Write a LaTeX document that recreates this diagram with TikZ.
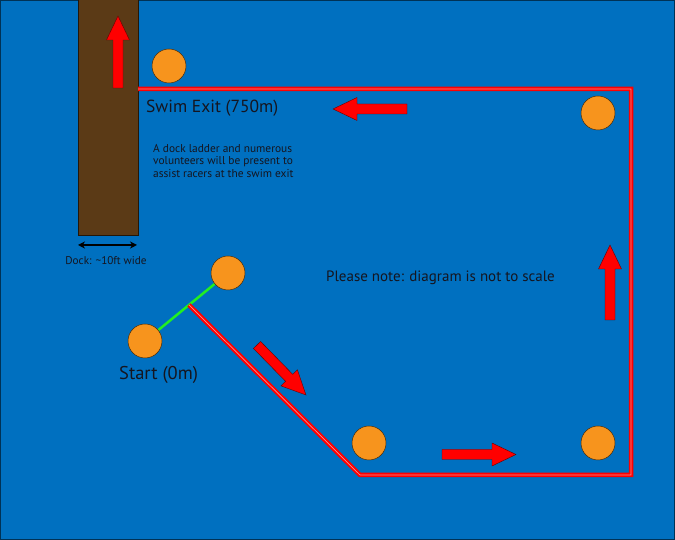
\documentclass[tikz,border=0pt]{standalone}
\usepackage{fontspec}
\setmainfont{PT Sans}
\usetikzlibrary{arrows.meta}
\definecolor{water}{HTML}{0070C0}
\definecolor{dockbrown}{HTML}{5B3A16}
\definecolor{buoy}{HTML}{F7941D}
\definecolor{txt}{HTML}{15151F}
\definecolor{startgreen}{HTML}{22EE22}
\tikzset{
  buoystyle/.style={circle,fill=buoy,draw=black!70!buoy,line width=0.5pt,minimum size=34pt,inner sep=0pt},
  arrowstyle/.style={fill=red,draw=black!60!red,line width=0.4pt},
  labeltext/.style={text=txt,inner sep=0pt,anchor=base west},
  courseline/.style={draw=red,line width=4.5pt,line join=miter},
  courseinner/.style={draw=red!45!white,line width=0.7pt,line join=miter}
}
\newcommand\blockarrow[4]{%
  \begin{scope}[shift={(#1,#2)},rotate=#3]
    \filldraw[arrowstyle] (0,-5) -- ({#4-24},-5) -- ({#4-24},-11.5) -- (#4,0) -- ({#4-24},11.5) -- ({#4-24},5) -- (0,5) -- cycle;
  \end{scope}}
\begin{document}
\begin{tikzpicture}[x=1pt,y=1pt]
  \useasboundingbox (0,0) rectangle (675,540);
  \fill[water] (0,0) rectangle (675,540);
  \draw[black!55!water,line width=1pt] (0.5,0.5) rectangle (674.5,539.5);
  % dock
  \filldraw[fill=dockbrown,draw=black!60!dockbrown,line width=0.5pt] (78,305) rectangle (138,541);
  % buoys positions
  \coordinate (b1) at (169,474);
  \coordinate (b2) at (598,427);
  \coordinate (b3) at (228,267);
  \coordinate (b4) at (145,199);
  \coordinate (b5) at (369,97);
  \coordinate (b6) at (598,97);
  % start line
  \draw[startgreen,line width=2.5pt] (b4) -- (b3) coordinate[pos=0.53] (s);
  % course
  \coordinate (c0) at (138,451);
  \coordinate (c1) at (631,451);
  \coordinate (c2) at (631,65);
  \coordinate (c3) at (360,65);
  \draw[courseline] (c0) -- (c1) -- (c2) -- (c3) -- (s);
  \draw[courseinner] (c0) -- (c1) -- (c2) -- (c3) -- (s);
  % buoys
  \node[buoystyle] (n1) at (b1) {};
  \node[buoystyle] (n2) at (b2) {};
  \node[buoystyle] (n3) at (b3) {};
  \node[buoystyle] (n4) at (b4) {};
  \node[buoystyle] (n5) at (b5) {};
  \node[buoystyle] (n6) at (b6) {};
  % direction arrows
  \blockarrow{118}{452}{90}{72}
  \blockarrow{407}{431}{180}{74}
  \blockarrow{442}{85.5}{0}{74}
  \blockarrow{610}{220}{90}{75}
  \blockarrow{257}{195}{-45.6}{70}
  % dock width
  \coordinate (dl) at (78,295);
  \coordinate (dr) at (137,295);
  \draw[black,line width=1.5pt,{Stealth[length=7pt,width=7pt]}-{Stealth[length=7pt,width=7pt]}] (dl) -- (dr);
  % texts
  \node[labeltext,font=\fontsize{17.5}{20}\selectfont] (exit) at (146,427) {Swim Exit (750m)};
  \node[labeltext,font=\fontsize{11.4}{12.6}\selectfont,align=left,anchor=north west] (info) at (153,396) {A dock ladder and numerous\\volunteers will be present to\\assist racers at the swim exit};
  \node[text=txt,inner sep=0pt,anchor=base,font=\fontsize{11.2}{13}\selectfont] (dock) at (106,275) {Dock: \textasciitilde10ft wide};
  \node[labeltext,font=\fontsize{15}{17}\selectfont] (note) at (326,258) {Please note: diagram is not to scale};
  \node[labeltext,font=\fontsize{18.5}{21}\selectfont] (start) at (119,160) {Start (0m)};
\end{tikzpicture}
\end{document}
